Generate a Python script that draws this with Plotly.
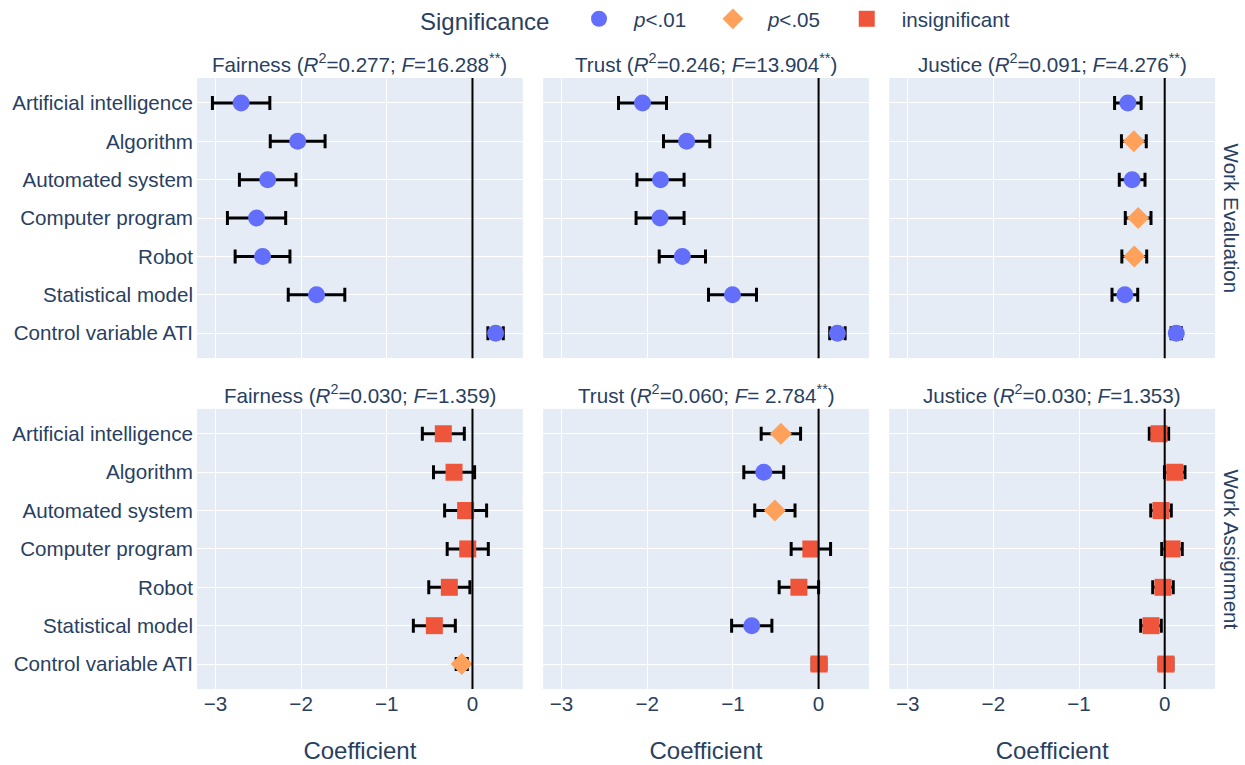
import plotly.graph_objects as go
from plotly.subplots import make_subplots

categories = ["Artificial intelligence", "Algorithm", "Automated system", "Computer program",
              "Robot", "Statistical model", "Control variable ATI"]
outcomes = ["Fairness", "Trust", "Justice"]
conditions = ["Work Evaluation", "Work Assignment"]

titles = [
    "Fairness (<i>R</i><sup>2</sup>=0.277; <i>F</i>=16.288<sup>**</sup>)",
    "Trust (<i>R</i><sup>2</sup>=0.246; <i>F</i>=13.904<sup>**</sup>)",
    "Justice (<i>R</i><sup>2</sup>=0.091; <i>F</i>=4.276<sup>**</sup>)",
    "Fairness (<i>R</i><sup>2</sup>=0.030; <i>F</i>=1.359)",
    "Trust (<i>R</i><sup>2</sup>=0.060; <i>F</i>= 2.784<sup>**</sup>)",
    "Justice (<i>R</i><sup>2</sup>=0.030; <i>F</i>=1.353)",
]

# Work Evaluation
we_fairness_coef = [-2.70, -2.04, -2.39, -2.52, -2.45, -1.82, 0.27]
we_fairness_err = [0.335, 0.32, 0.33, 0.34, 0.32, 0.33, 0.09]
we_fairness_sig = ["p01", "p01", "p01", "p01", "p01", "p01", "p01"]

we_trust_coef = [-2.055, -1.54, -1.845, -1.85, -1.59, -1.005, 0.22]
we_trust_err = [0.28, 0.27, 0.275, 0.28, 0.27, 0.28, 0.09]
we_trust_sig = ["p01", "p01", "p01", "p01", "p01", "p01", "p01"]

we_justice_coef = [-0.43, -0.36, -0.38, -0.31, -0.355, -0.465, 0.135]
we_justice_err = [0.155, 0.145, 0.15, 0.15, 0.145, 0.15, 0.06]
we_justice_sig = ["p01", "p05", "p01", "p05", "p05", "p01", "p01"]

# Work Assignment
wa_fairness_coef = [-0.34, -0.215, -0.08, -0.055, -0.27, -0.445, -0.125]
wa_fairness_err = [0.245, 0.24, 0.245, 0.24, 0.24, 0.245, 0.065]
wa_fairness_sig = ["ns", "ns", "ns", "ns", "ns", "ns", "p05"]

wa_trust_coef = [-0.44, -0.64, -0.51, -0.09, -0.23, -0.78, 0.005]
wa_trust_err = [0.23, 0.233, 0.235, 0.23, 0.23, 0.235, 0.08]
wa_trust_sig = ["p05", "p01", "p05", "ns", "ns", "p01", "ns"]

wa_justice_coef = [-0.067, 0.117, -0.043, 0.085, -0.02, -0.16, 0.015]
wa_justice_err = [0.113, 0.12, 0.12, 0.12, 0.12, 0.12, 0.08]
wa_justice_sig = ["ns", "ns", "ns", "ns", "ns", "ns", "ns"]

panels = [
    (1, 1, we_fairness_coef, we_fairness_err, we_fairness_sig),
    (1, 2, we_trust_coef, we_trust_err, we_trust_sig),
    (1, 3, we_justice_coef, we_justice_err, we_justice_sig),
    (2, 1, wa_fairness_coef, wa_fairness_err, wa_fairness_sig),
    (2, 2, wa_trust_coef, wa_trust_err, wa_trust_sig),
    (2, 3, wa_justice_coef, wa_justice_err, wa_justice_sig),
]

groups = ["p01", "p05", "ns"]
group_names = {"p01": "<i>p</i>&lt;.01\u00a0", "p05": "<i>p</i>&lt;.05\u00a0", "ns": "insignificant"}
group_colors = {"p01": "#636EFA", "p05": "#FFA15A", "ns": "#EF553B"}
group_symbols = {"p01": "circle", "p05": "diamond", "ns": "square"}

FONT = "Arial"
TXT = "#2a3f5f"
FS = 20.6

fig = make_subplots(rows=2, cols=3, shared_xaxes=True, shared_yaxes=True,
                    horizontal_spacing=0.02, vertical_spacing=0.083,
                    subplot_titles=titles)

for g in groups:
    shown = False
    for (r, c, coef, err, sig) in panels:
        idx = [i for i, s in enumerate(sig) if s == g]
        if not idx:
            continue
        fig.add_trace(go.Scatter(
            x=[coef[i] for i in idx],
            y=[categories[i] for i in idx],
            mode="markers",
            name=group_names[g],
            legendgroup=g,
            showlegend=not shown,
            marker=dict(color=group_colors[g], symbol=group_symbols[g], size=17),
            error_x=dict(type="data", array=[err[i] for i in idx], symmetric=True,
                         color="black", thickness=3, width=7),
        ), row=r, col=c)
        shown = True

fig.add_vline(x=0, line_color="black", line_width=2, row="all", col="all")

fig.update_xaxes(range=[-3.215, 0.587], dtick=1, zeroline=False, automargin=False,
                 tickfont=dict(size=FS, family=FONT, color=TXT))
for c in (1, 2, 3):
    fig.update_xaxes(title_text="Coefficient", title_font=dict(size=24, family=FONT, color=TXT),
                     title_standoff=28, row=2, col=c)
fig.update_yaxes(type="category", categoryorder="array", categoryarray=categories,
                 range=[6.65, -0.65], automargin=False, ticklabelstandoff=3,
                 tickfont=dict(size=FS, family=FONT, color=TXT))

for a in fig.layout.annotations:
    a.font = dict(size=FS, family=FONT, color=TXT)

# row labels
row_centers = []
for r in (1, 2):
    dom = fig.get_subplot(r, 1).yaxis.domain
    row_centers.append((dom[0] + dom[1]) / 2)
for name, yc in zip(conditions, row_centers):
    fig.add_annotation(text=name, x=1.0, y=yc, xref="paper", yref="paper",
                       xanchor="left", yanchor="middle", xshift=3, textangle=90,
                       showarrow=False, font=dict(size=FS, family=FONT, color=TXT))

fig.update_layout(
    width=1245, height=765,
    template="plotly",
    font=dict(family=FONT, size=FS, color=TXT),
    margin=dict(l=197, r=30, t=78, b=76, autoexpand=False),
    legend=dict(orientation="h", xref="container", yref="container",
                x=0.3357, xanchor="left", y=0.974, yanchor="middle",
                itemwidth=60,
                title=dict(text="Significance\u00a0", font=dict(size=24, family=FONT, color=TXT)),
                font=dict(size=FS, family=FONT, color=TXT)),
)

fig.write_html("out.html", config={"displayModeBar": False},
               post_script="document.body.style.margin='0px';document.body.style.overflow='hidden';")
